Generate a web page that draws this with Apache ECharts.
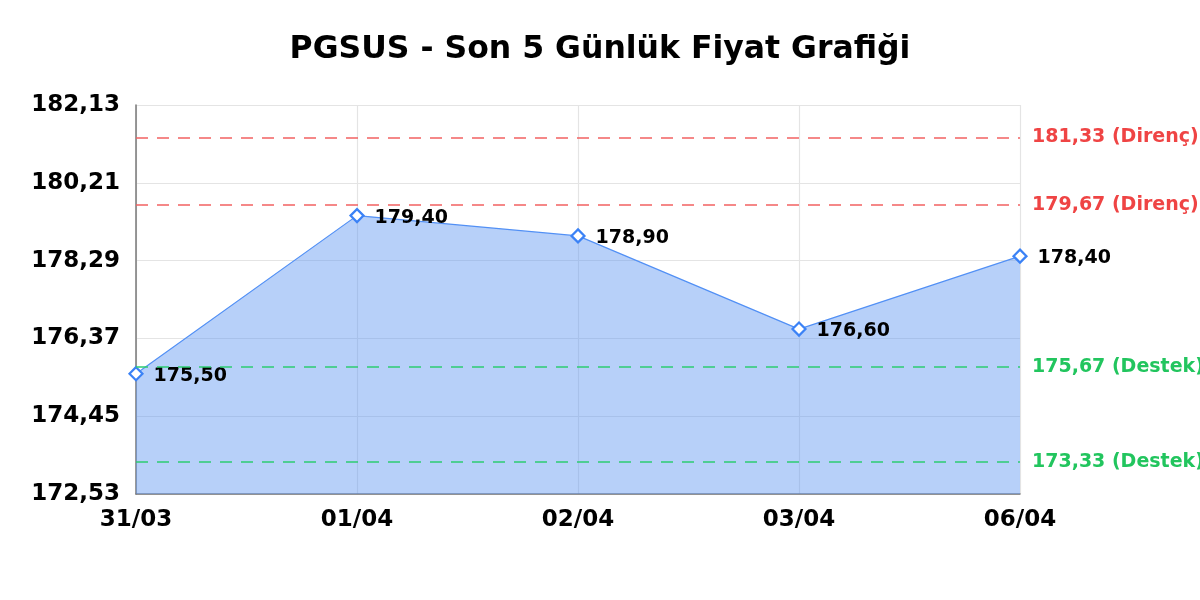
<!DOCTYPE html>
<html>
<head>
<meta charset="utf-8">
<script src="https://cdn.jsdelivr.net/npm/echarts@6/dist/echarts.min.js"></script>
<style>html,body{margin:0;padding:0;background:#fff}#c{width:1200px;height:600px}</style>
</head>
<body>
<div id="c"></div>
<script>
const categories = ['31/03', '01/04', '02/04', '03/04', '06/04'];
const prices = [175.50, 179.40, 178.90, 176.60, 178.40];
const resistanceLevels = [181.33, 179.67];
const supportLevels = [175.67, 173.33];
const yMin = 172.53, yMax = 182.13, yStep = 1.92;

const fmt = v => v.toFixed(2).replace('.', ',');
const FONT = 'DejaVu Sans';

const markData = [];
resistanceLevels.forEach(v => markData.push({
  yAxis: v,
  lineStyle: { color: '#f26161', type: [12, 9], width: 1.6 },
  label: { color: '#ef4444', formatter: fmt(v) + ' (Direnç)' }
}));
supportLevels.forEach(v => markData.push({
  yAxis: v,
  lineStyle: { color: '#2ecc71', type: [12, 9], width: 1.6 },
  label: { color: '#22c55e', formatter: fmt(v) + ' (Destek)' }
}));

const chart = echarts.init(document.getElementById('c'));
chart.setOption({
  animation: false,
  textStyle: { fontFamily: FONT },
  title: {
    text: 'PGSUS - Son 5 Günlük Fiyat Grafiği',
    left: 'center', top: 29,
    textStyle: { fontFamily: FONT, fontSize: 31.5, fontWeight: 'bold', color: '#000' }
  },
  grid: { left: 136, right: 180, top: 105, bottom: 106, containLabel: false },
  xAxis: {
    type: 'category', data: categories, boundaryGap: false,
    axisLine: { show: true, lineStyle: { color: '#777', width: 1.5 } },
    axisTick: { show: false },
    splitLine: { show: true, lineStyle: { color: '#e4e4e4', width: 1.2 } },
    axisLabel: { fontFamily: FONT, fontSize: 23, fontWeight: 'bold', color: '#000', margin: 15 }
  },
  yAxis: {
    type: 'value', min: yMin, max: yMax, interval: yStep,
    axisLine: { show: true, lineStyle: { color: '#777', width: 1.5 } },
    axisTick: { show: false },
    splitLine: { show: true, lineStyle: { color: '#e4e4e4', width: 1.2 } },
    axisLabel: { fontFamily: FONT, fontSize: 23, fontWeight: 'bold', color: '#000', margin: 16, formatter: fmt }
  },
  series: [{
    type: 'line', data: prices,
    symbol: 'diamond', symbolSize: 13,
    lineStyle: { color: '#5290f5', width: 1.2 },
    itemStyle: { color: '#ffffff', borderColor: '#3b82f6', borderWidth: 2.2 },
    areaStyle: { color: 'rgba(96,150,242,0.45)', opacity: 1 },
    label: {
      show: true, position: 'right', distance: 10,
      fontFamily: FONT, fontSize: 19, fontWeight: 'bold', color: '#000',
      offset: [0, 2],
      formatter: p => fmt(p.value)
    },
    markLine: {
      silent: true, symbol: ['none', 'none'],
      label: { position: 'end', distance: 12, fontFamily: FONT, fontSize: 19, fontWeight: 'bold' },
      data: markData
    }
  }]
});
</script>
</body>
</html>
